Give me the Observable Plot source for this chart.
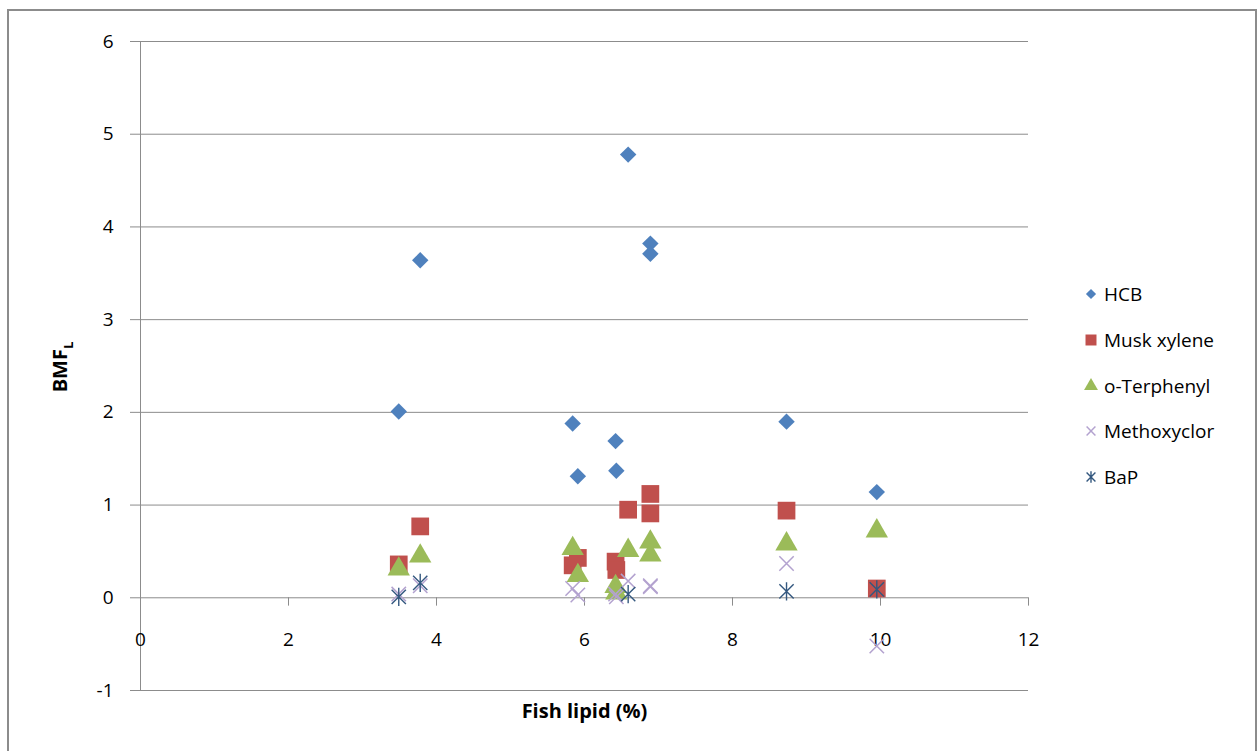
<!DOCTYPE html>
<html>
<head>
<meta charset="utf-8">
<script src="https://cdn.jsdelivr.net/npm/d3@7"></script>
<script src="https://cdn.jsdelivr.net/npm/@observablehq/plot@0.6"></script>
<style>
  html, body { margin: 0; padding: 0; background: #fff; overflow: hidden; }
  #wrap { position: relative; width: 1258px; height: 751px; font-family: "Open Sans", sans-serif; }
  #frame { position: absolute; left: 7px; top: 9px; width: 1250px; height: 800px; border: 2px solid #8c8c8c; box-sizing: border-box; pointer-events: none; }
  #chart { position: absolute; left: 0; top: 0; }
  #legend { position: absolute; left: 1081px; top: 0; font-size: 19px; color: #000; }
  .item { position: absolute; left: 0; white-space: nowrap; display: flex; align-items: center; height: 26px; }
  .item svg { width: 20px; height: 20px; margin-right: 3px; }
</style>
</head>
<body>
<div id="wrap">
  <div id="chart"></div>
  <div id="legend"></div>
  <div id="frame"></div>
</div>
<script>
// ---- data ----
const lipid = [3.49, 3.78, 5.84, 5.91, 6.42, 6.43, 6.59, 6.89, 6.89, 8.73, 9.95];
const hcb = [2.01, 3.64, 1.88, 1.31, 1.69, 1.37, 4.78, 3.82, 3.71, 1.90, 1.14];
const muskXylene = [0.36, 0.77, 0.35, 0.43, 0.39, 0.30, 0.95, 1.12, 0.91, 0.94, 0.10];
const oTerphenyl = [0.31, 0.45, 0.53, 0.24, 0.12, 0.05, 0.51, 0.60, 0.46, 0.58, 0.72];
const methoxyclor = [0.04, 0.13, 0.10, 0.03, 0.04, 0.01, 0.18, 0.13, 0.12, 0.37, -0.52];
const bapLipid = [3.49, 3.78, 6.59, 8.73, 9.95];
const bap = [0.01, 0.16, 0.04, 0.07, 0.09];

const seriesNames = ["HCB", "Musk xylene", "o-Terphenyl", "Methoxyclor", "BaP"];
const xTicks = [0, 2, 4, 6, 8, 10, 12];
const yTicks = [-1, 0, 1, 2, 3, 4, 5, 6];
const xTitle = "Fish lipid (%)";
const yTitle = "BMF";
const yTitleSub = "L";

// custom asterisk: vertical bar plus an X
const asteriskX = {
  draw(context, size) {
    const r = Math.sqrt(size) * 0.6;
    const k = r * 0.78;
    context.moveTo(0, -r); context.lineTo(0, r);
    context.moveTo(-k, -k); context.lineTo(k, k);
    context.moveTo(-k, k); context.lineTo(k, -k);
  }
};

// ---- styles ----
const styles = {
  "HCB": {symbol: d3.symbolDiamond2, fill: "#4F81BD", stroke: "none", r: 7.4},
  "Musk xylene": {symbol: d3.symbolSquare, fill: "#C0504D", stroke: "none", r: 10},
  "o-Terphenyl": {symbol: d3.symbolTriangle, fill: "#9BBB59", stroke: "none", r: 8.3},
  "Methoxyclor": {symbol: d3.symbolTimes, fill: "none", stroke: "#B3A2CF", r: 6.6, sw: 1.5},
  "BaP": {symbol: asteriskX, fill: "none", stroke: "#34587F", r: 8.6, sw: 1.4}
};

const rows = [
  ...lipid.map((x, i) => ({series: "HCB", x, y: hcb[i]})),
  ...lipid.map((x, i) => ({series: "Musk xylene", x, y: muskXylene[i]})),
  ...lipid.map((x, i) => ({series: "o-Terphenyl", x, y: oTerphenyl[i]})),
  ...lipid.map((x, i) => ({series: "Methoxyclor", x, y: methoxyclor[i]})),
  ...bapLipid.map((x, i) => ({series: "BaP", x, y: bap[i]}))
];

const gridColor = "#8c8c8c";

const dotMarks = seriesNames.map(name => {
  const s = styles[name];
  return Plot.dot(rows.filter(d => d.series === name), {
    x: "x", y: "y", symbol: s.symbol, r: s.r,
    fill: s.fill, stroke: s.stroke, strokeWidth: s.sw || 1
  });
});

const chart = Plot.plot({
  width: 1258,
  height: 751,
  marginLeft: 140,
  marginRight: 230,
  marginTop: 41,
  marginBottom: 61,
  style: {fontFamily: "'Open Sans', sans-serif", fontSize: "19px", background: "transparent", color: "#000"},
  x: {domain: [0, 12], axis: null},
  y: {domain: [-1, 6]},
  marks: [
    Plot.gridY(yTicks, {stroke: gridColor, strokeOpacity: 1, strokeWidth: 1}),
    Plot.ruleX([0], {y1: -1, y2: 6, stroke: gridColor, strokeWidth: 1}),
    Plot.ruleX(xTicks.filter(d => d > 0), {x: d => d, y1: 0, y2: -0.09, stroke: gridColor}),
    Plot.axisY(yTicks, {tickSize: 10, tickPadding: 17, stroke: gridColor, fill: "#000", fontSize: 19, label: null, tickFormat: d => String(d)}),
    Plot.text(xTicks, {x: d => d, y: 0, dy: 42, text: d => String(d), fontSize: 19, fill: "#000"}),
    Plot.text([xTitle], {frameAnchor: "bottom", dy: 27, text: d => d, fontSize: 20, fontWeight: "bold", fill: "#000"}),
    ...dotMarks
  ]
});
document.getElementById("chart").appendChild(chart);

// y-axis title with subscript
const svg = d3.select(chart);
const t = svg.append("text")
  .attr("transform", "translate(67,367) rotate(-90)")
  .attr("text-anchor", "middle")
  .attr("font-size", 20)
  .attr("font-weight", "bold")
  .attr("fill", "#000");
t.append("tspan").text(yTitle);
t.append("tspan").attr("font-size", 13).attr("dy", 6).text(yTitleSub);

// legend
const legend = d3.select("#legend");
const legendY = [294, 340, 386, 431, 477];
seriesNames.forEach((name, i) => {
  const s = styles[name];
  const item = legend.append("div").attr("class", "item").style("top", (legendY[i] - 13) + "px");
  const sv = item.append("svg").attr("viewBox", "-10 -10 20 20");
  const rr = s.r * 0.62;
  sv.append("path")
    .attr("d", d3.symbol(s.symbol, Math.PI * rr * rr)())
    .attr("fill", s.fill)
    .attr("stroke", s.stroke)
    .attr("stroke-width", s.sw || 1);
  item.append("span").text(name);
});
</script>
</body>
</html>
